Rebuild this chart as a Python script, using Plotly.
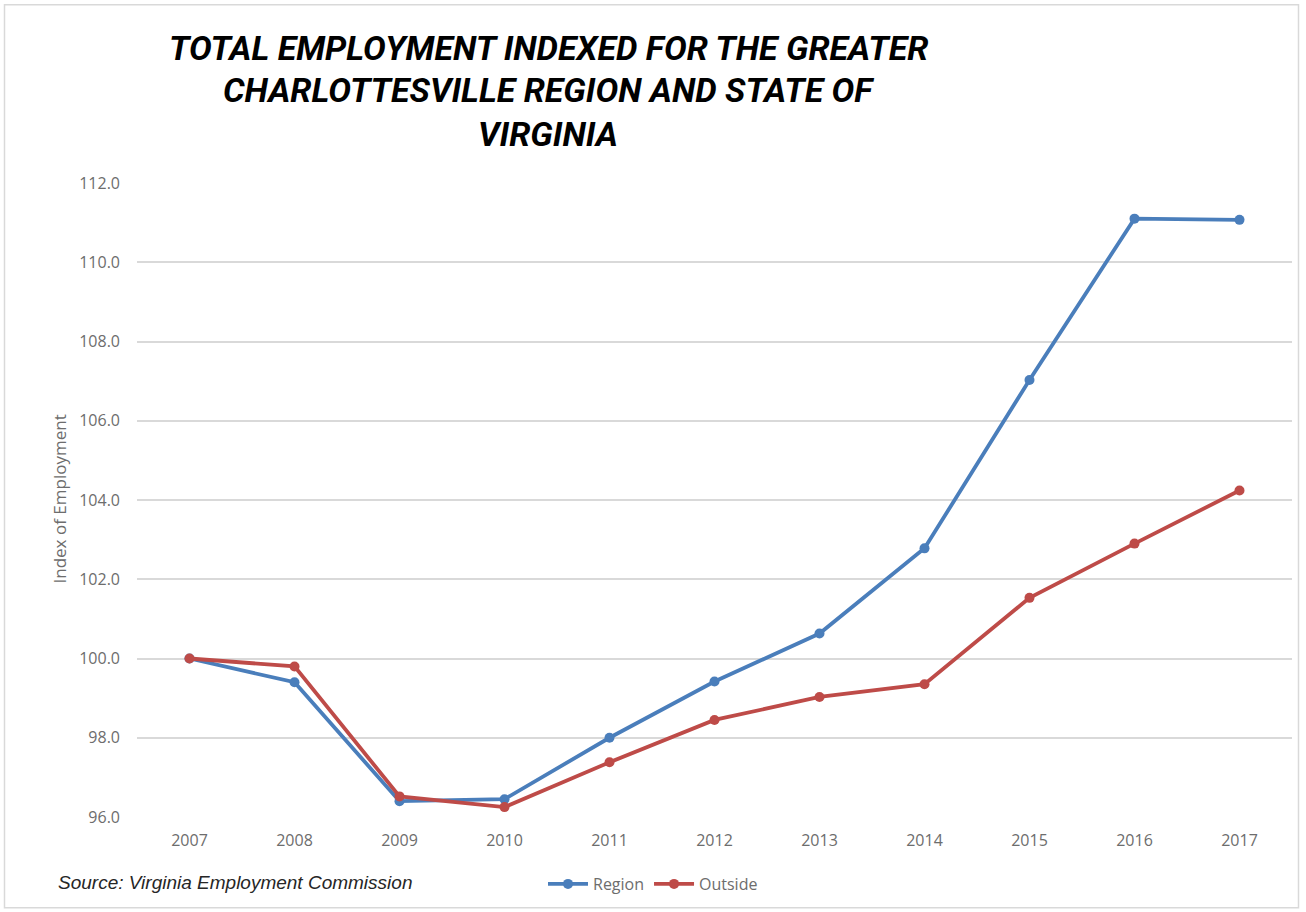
import plotly.graph_objects as go

years = ["2007", "2008", "2009", "2010", "2011", "2012", "2013", "2014", "2015", "2016", "2017"]
region = [100.0, 99.4, 96.4, 96.45, 98.0, 99.42, 100.63, 102.78, 107.03, 111.1, 111.07]
outside = [100.0, 99.8, 96.52, 96.25, 97.38, 98.45, 99.03, 99.35, 101.53, 102.9, 104.24]
y_ticks = [96, 98, 100, 102, 104, 106, 108, 110, 112]
title_lines = [
    "TOTAL EMPLOYMENT INDEXED FOR THE GREATER",
    "CHARLOTTESVILLE REGION AND STATE OF",
    "VIRGINIA",
]

W, H = 1306, 912
L, R, T, B = 137, 14, 183, 94
PW, PH = W - L - R, H - T - B


def px(x):
    return (x - L) / PW


def py(y):
    return (H - B - y) / PH


fig = go.Figure()
fig.add_trace(go.Scatter(
    x=years, y=region, name="Region", mode="lines+markers",
    line=dict(color="#4a7ebb", width=3.8),
    marker=dict(color="#4a7ebb", size=10),
))
fig.add_trace(go.Scatter(
    x=years, y=outside, name="Outside", mode="lines+markers",
    line=dict(color="#be4b48", width=3.8),
    marker=dict(color="#be4b48", size=10),
))

tick_font = dict(family="Open Sans, Lato, sans-serif", size=16, color="#6d6d6d")

annotations = [
    dict(
        text=line, x=px(548), y=py(cy), xref="paper", yref="paper",
        xanchor="center", yanchor="middle", showarrow=False,
        font=dict(family="Roboto, sans-serif", size=34, color="black",
                  weight="bold", style="italic"),
    )
    for line, cy in zip(title_lines, [48, 90, 134])
]
annotations += [
    dict(
        text="Index of Employment", textangle=-90,
        x=px(60), y=py(500), xref="paper", yref="paper",
        xanchor="center", yanchor="middle", showarrow=False,
        font=dict(family="Open Sans, Lato, sans-serif", size=17, color="#6d6d6d"),
    ),
    dict(
        text="Source: Virginia Employment Commission",
        x=px(56), y=py(884), xref="paper", yref="paper",
        xanchor="left", yanchor="middle", showarrow=False,
        font=dict(family="Liberation Sans, Arial, sans-serif", size=19,
                  color="#262626", style="italic"),
    ),
]

fig.update_layout(
    width=W, height=H,
    margin=dict(l=L, r=R, t=T, b=B),
    paper_bgcolor="white", plot_bgcolor="white",
    showlegend=True,
    legend=dict(
        orientation="h", x=px(543), y=py(884), xanchor="left", yanchor="middle",
        font=tick_font, itemwidth=40, tracegroupgap=0,
        bgcolor="rgba(0,0,0,0)",
    ),
    xaxis=dict(
        type="category", range=[-0.5, 10.5], showgrid=False, zeroline=False,
        showline=False, ticks="", tickfont=tick_font, ticklabelstandoff=12,
    ),
    yaxis=dict(
        range=[96, 112], tickvals=y_ticks, ticktext=[f"{v:.1f}" for v in y_ticks],
        showgrid=True, gridcolor="#d9d9d9", gridwidth=1.5, zeroline=False,
        showline=False, ticks="", tickfont=tick_font, ticklabelstandoff=16,
    ),
    annotations=annotations,
    shapes=[
        dict(type="rect", xref="paper", yref="paper",
             x0=px(4.5), x1=px(1298.5), y0=py(909), y1=py(4.5),
             line=dict(color="#d9d9d9", width=1.5), layer="below"),
    ],
)

fig.write_html("out.html")
